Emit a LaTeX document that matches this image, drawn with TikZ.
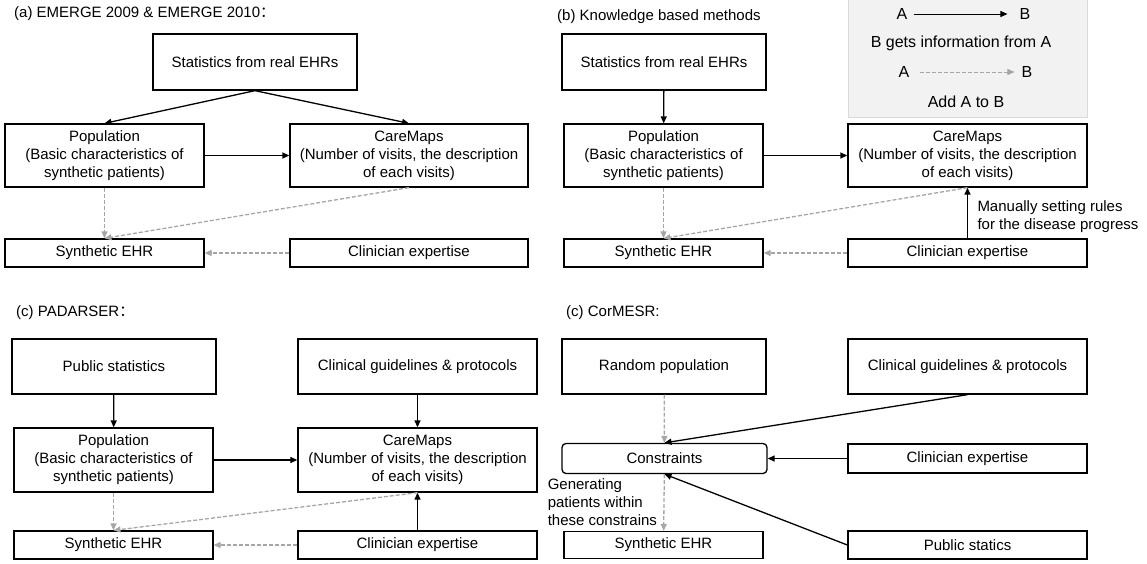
\documentclass[tikz,border=0pt]{standalone}
\usepackage{fontspec}
\setmainfont{Liberation Sans}
\newfontfamily\cjk{Noto Sans CJK SC}
\usetikzlibrary{
    arrows.meta,
    positioning
}
\definecolor{addgray}{HTML}{A6A6A6}
\definecolor{keyfill}{HTML}{F2F2F2}
\definecolor{keyline}{HTML}{D9D9D9}

\begin{document}
\begin{tikzpicture}[x=1pt, y=-1pt,
    font=\fontsize{15}{18}\selectfont,
    box/.style={draw, line width=1.3pt, align=center, inner sep=0pt, minimum height=28pt},
    gets/.style={-{Triangle[length=7pt, width=6pt]}, line width=1.3pt},
    adds/.style={-{Triangle[length=7pt, width=6pt]}, addgray, line width=1.3pt, dash pattern=on 4pt off 2pt},
    title/.style={anchor=west, inner sep=0pt},
    keytext/.style={inner sep=3pt, font=\fontsize{16}{19}\selectfont}]
                        \useasboundingbox (0, 0) rectangle (1147, 563);

                        % (a)
                        \node[title] (ta) at (14, 14) {(a) EMERGE 2009 \& EMERGE 2010{\cjk ：}};
                        \node[box, minimum width=204pt, minimum height=56pt] (statA) at (255, 62) {Statistics from real EHRs};
                        \node[box, minimum width=199pt, minimum height=63pt] (popA) at (104.5, 155.5) {Population\\(Basic characteristics of\\synthetic patients)};
                        \node[box, minimum width=238pt, minimum height=63pt] (careA) at (409, 155.5) {CareMaps\\(Number of visits, the description\\of each visits)};
                        \node[box, minimum width=199pt] (ehrA) at (104.5, 253) {Synthetic EHR};
                        \node[box, minimum width=238pt] (clinA) at (409, 253) {Clinician expertise};

                        \draw
                        (statA.south) edge[gets] (popA.north)
                        (statA.south) edge[gets] (careA.north)
                        (popA) edge[gets] (careA)
                        (popA) edge[adds] (ehrA)
                        (careA.south) edge[adds] (ehrA.north)
                        (clinA) edge[adds] (ehrA);

                        % (b)
                        \node[title] (tb) at (557, 17) {(b) Knowledge based methods};
                        \node[box, minimum width=204pt, minimum height=56pt] (statB) at (664, 62) {Statistics from real EHRs};
                        \node[box, minimum width=199pt, minimum height=63pt] (popB) at (663.5, 155.5) {Population\\(Basic characteristics of\\synthetic patients)};
                        \node[box, minimum width=239pt, minimum height=63pt] (careB) at (967.5, 155.5) {CareMaps\\(Number of visits, the description\\of each visits)};
                        \node[box, minimum width=199pt] (ehrB) at (663.5, 253) {Synthetic EHR};
                        \node[box, minimum width=239pt] (clinB) at (967.5, 253) {Clinician expertise};

                        \draw
                        (statB) edge[gets] (popB)
                        (popB) edge[gets] (careB)
                        (popB) edge[adds] (ehrB)
                        (careB.south) edge[adds] (ehrB.north)
                        (clinB) edge[adds] (ehrB)
                        (clinB) edge[gets] node[right=6pt, yshift=-4pt, align=left]{Manually setting rules\\for the disease progress} (careB);

                        % key
                        \node[fill=keyfill, draw=keyline, line width=0.8pt, minimum width=239pt, minimum height=118pt, inner sep=0pt] (key) at (967.5, 58.5) {};
                        \node[keytext] (ka1) at (902, 14) {A};
                        \node[keytext] (kb1) at (1025, 14) {B};
                        \node[keytext] (kgets) at (961, 43) {B gets information from A};
                        \node[keytext] (ka2) at (904, 72) {A};
                        \node[keytext] (kb2) at (1027, 72) {B};
                        \node[keytext] (kadds) at (966, 102) {Add A to B};

                        \draw
                        (ka1) edge[gets, line width=1pt, shorten <=3pt, shorten >=9pt] (kb1)
                        (ka2) edge[adds, line width=1pt, shorten <=7pt, shorten >=4pt] (kb2);

                        % (c)
                        \node[title] (tc) at (16, 313) {(c) PADARSER{\cjk ：}};
                        \node[box, minimum width=204pt, minimum height=55pt] (pubC) at (114, 366.5) {Public statistics};
                        \node[box, minimum width=239pt, minimum height=55pt] (guideC) at (417.5, 366.5) {Clinical guidelines \& protocols};
                        \node[box, minimum width=199pt, minimum height=64pt] (popC) at (113.5, 460) {Population\\(Basic characteristics of\\synthetic patients)};
                        \node[box, minimum width=239pt, minimum height=64pt] (careC) at (417.5, 460) {CareMaps\\(Number of visits, the description\\of each visits)};
                        \node[box, minimum width=199pt] (ehrC) at (113.5, 545) {Synthetic EHR};
                        \node[box, minimum width=239pt] (clinC) at (417.5, 545) {Clinician expertise};

                        \draw
                        (pubC) edge[gets] (popC)
                        (guideC) edge[gets] (careC)
                        (popC) edge[gets] (careC)
                        (clinC) edge[gets] (careC)
                        (popC) edge[adds] (ehrC)
                        (careC.south) edge[adds] (ehrC.north)
                        (clinC) edge[adds] (ehrC);

                        % (c) CorMESR
                        \node[title] (td) at (566, 313) {(c) CorMESR:};
                        \node[box, minimum width=204pt, minimum height=55pt] (randD) at (664, 366.5) {Random population};
                        \node[box, minimum width=239pt, minimum height=55pt] (guideD) at (967.5, 366.5) {Clinical guidelines \& protocols};
                        \node[box, rounded corners=4pt, minimum width=205pt, minimum height=30pt] (consD) at (664.5, 458.5) {Constraints};
                        \node[box, minimum width=239pt, minimum height=29pt] (clinD) at (967.5, 458.5) {Clinician expertise};
                        \node[box, minimum width=199pt, minimum height=27pt] (ehrD) at (663.5, 545) {Synthetic EHR};
                        \node[box, minimum width=239pt] (pubD) at (967.5, 545) {Public statics};

                        \draw
                        (randD) edge[adds] (consD)
                        (guideD.south) edge[gets] (consD.north)
                        (clinD) edge[gets] (consD)
                        (pubD.west) edge[gets] (consD.south)
                        (consD) edge[adds] node[left, xshift=-3pt, text=black, align=left]{Generating\\patients within\\these constrains} (ehrD);
                    \end{tikzpicture}
\end{document}
